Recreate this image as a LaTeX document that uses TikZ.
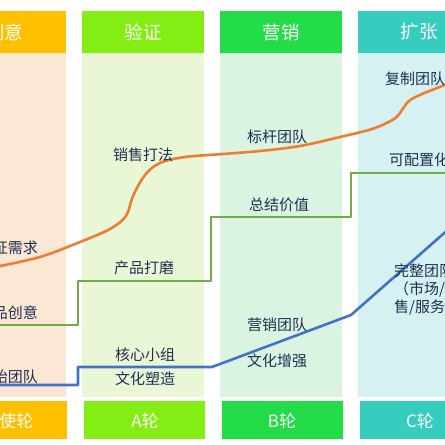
\documentclass[tikz,border=0pt]{standalone}
\usepackage{fontspec}
\newfontfamily\cjk{Noto Sans CJK SC}
\definecolor{hA}{HTML}{FFC000}
\definecolor{bA}{HTML}{FCE6D4}
\definecolor{hB}{HTML}{84EE14}
\definecolor{bB}{HTML}{EAF7D6}
\definecolor{hC}{HTML}{22DD48}
\definecolor{bC}{HTML}{DAF4E1}
\definecolor{hD}{HTML}{36CDBF}
\definecolor{bD}{HTML}{D6F1F1}
\definecolor{txt}{HTML}{1F3050}
\definecolor{lo}{HTML}{ED7D31}
\definecolor{lg}{HTML}{70AD47}
\definecolor{lb}{HTML}{4472C4}
\tikzset{
  headtext/.style={text=white, font=\cjk\fontsize{18.5}{20}\selectfont, inner sep=0pt},
  foottext/.style={text=white, font=\cjk\fontsize{17}{19}\selectfont, inner sep=0pt},
  bodytext/.style={text=txt, font=\cjk\fontsize{15}{18}\selectfont, inner sep=0pt, align=center},
  curve/.style={line width=2.6pt, line join=round}
}
\begin{document}
\begin{tikzpicture}[x=1pt,y=-1pt]
\useasboundingbox (0,0) rectangle (445,445);
\clip (0,0) rectangle (445,445);
\fill[white] (0,0) rectangle (445,445);
% columns
\foreach \x/\h/\b in {-56/hA/bA, 82/hB/bB, 220/hC/bC, 358/hD/bD}{
  \fill[\h] (\x,11) rectangle ++(122,42);
  \fill[\b] (\x,53) rectangle ++(122,344);
  \fill[\h] (\x+2,401) rectangle ++(121,38);
}
% headers
\node[headtext] (h0) at (5,32) {创意};
\node[headtext] (h1) at (143,32) {验证};
\node[headtext] (h2) at (281,32) {营销};
\node[headtext] (h3) at (419,32) {扩张};
% footers
\node[foottext] (f0) at (8,421) {天使轮};
\node[foottext] (f1) at (145,421) {A轮};
\node[foottext] (f2) at (282,421) {B轮};
\node[foottext] (f3) at (420,421) {C轮};
% curves
\draw[curve, lo] plot[smooth, tension=0.55] coordinates {(-5,267) (40,257) (80,242) (110,229) (126,216) (133,196) (145,175) (160,163) (185,157) (223,154) (260,151) (300,146) (340,137) (372,129) (394,119) (402,110) (409,101) (422,94) (450,83)};
\draw[curve, lg] (-5,325) -- (78,325) -- (78,281) -- (211,281) -- (211,217) -- (351,217) -- (351,173) -- (450,173);
\draw[curve, lb] (-5,385) -- (78,385) -- (78,367) -- (212,367) -- (351,315) -- (450,228);
% body texts
\node[bodytext] (t1) at (8,248) {验证需求};
\node[bodytext] (t2) at (8,313) {产品创意};
\node[bodytext] (t3) at (8,377) {创始团队};
\node[bodytext] (t4) at (143,155) {销售打法};
\node[bodytext] (t5) at (144,268) {产品打磨};
\node[bodytext, font=\cjk\fontsize{15}{24}\selectfont] (t6) at (145,367) {核心小组\\文化塑造};
\node[bodytext] (t7) at (277,137) {标杆团队};
\node[bodytext] (t8) at (279,205) {总结价值};
\node[bodytext] (t9) at (277,325) {营销团队};
\node[bodytext] (t10) at (277,361) {文化增强};
\node[bodytext] (t11) at (415,79) {复制团队};
\node[bodytext] (t12) at (419,160) {可配置化};
\node[bodytext, anchor=north west, align=left] (t13) at (394,264) {完整团队\\（市场/销\\售/服务）};
\end{tikzpicture}
\end{document}
